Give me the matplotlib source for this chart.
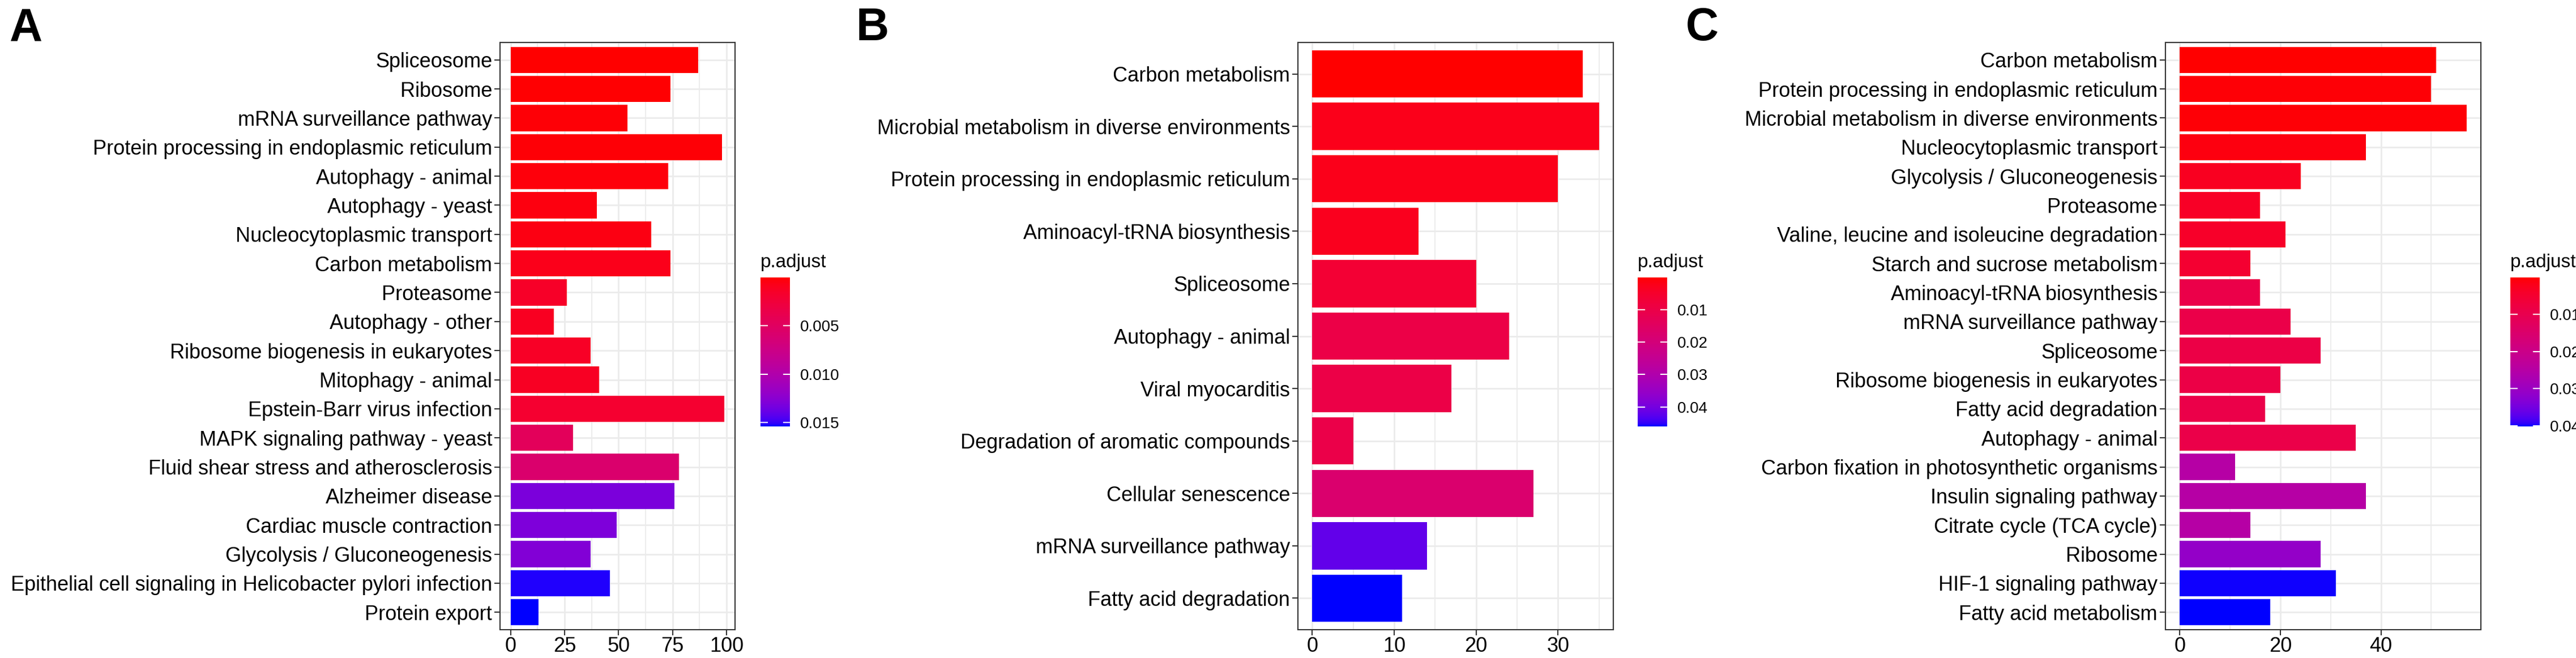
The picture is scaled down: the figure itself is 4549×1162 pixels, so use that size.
import numpy as np
import matplotlib
matplotlib.use("Agg")
import matplotlib.pyplot as plt
from matplotlib.colors import ListedColormap, Normalize
from matplotlib.cm import ScalarMappable
from matplotlib.ticker import MultipleLocator

plt.rcParams['font.family'] = ['Liberation Sans', 'DejaVu Sans']

# ---- panel A ----
a_terms = ["Spliceosome", "Ribosome", "mRNA surveillance pathway",
           "Protein processing in endoplasmic reticulum", "Autophagy - animal",
           "Autophagy - yeast", "Nucleocytoplasmic transport", "Carbon metabolism",
           "Proteasome", "Autophagy - other", "Ribosome biogenesis in eukaryotes",
           "Mitophagy - animal", "Epstein-Barr virus infection",
           "MAPK signaling pathway - yeast", "Fluid shear stress and atherosclerosis",
           "Alzheimer disease", "Cardiac muscle contraction",
           "Glycolysis / Gluconeogenesis",
           "Epithelial cell signaling in Helicobacter pylori infection",
           "Protein export"]
a_count = [87, 74, 54, 98, 73, 40, 65, 74, 26, 20, 37, 41, 99, 29, 78, 76, 49, 37, 46, 13]
a_padj = [0.00002, 0.0001, 0.0002, 0.0002, 0.0003, 0.0004, 0.0005, 0.0008, 0.0015, 0.0011,
          0.0014, 0.0012, 0.0019, 0.0046, 0.0058, 0.0131, 0.0130, 0.0128, 0.0152, 0.0154]
a_ticks = [0.005, 0.010, 0.015]
a_ticklabels = ["0.005", "0.010", "0.015"]

# ---- panel B ----
b_terms = ["Carbon metabolism", "Microbial metabolism in diverse environments",
           "Protein processing in endoplasmic reticulum", "Aminoacyl-tRNA biosynthesis",
           "Spliceosome", "Autophagy - animal", "Viral myocarditis",
           "Degradation of aromatic compounds", "Cellular senescence",
           "mRNA surveillance pathway", "Fatty acid degradation"]
b_count = [33, 35, 30, 13, 20, 24, 17, 5, 27, 14, 11]
b_padj = [0.0001, 0.0024, 0.0025, 0.003, 0.0065, 0.010, 0.010, 0.0102, 0.0175, 0.042, 0.046]
b_ticks = [0.01, 0.02, 0.03, 0.04]
b_ticklabels = ["0.01", "0.02", "0.03", "0.04"]

# ---- panel C ----
c_terms = ["Carbon metabolism", "Protein processing in endoplasmic reticulum",
           "Microbial metabolism in diverse environments", "Nucleocytoplasmic transport",
           "Glycolysis / Gluconeogenesis", "Proteasome",
           "Valine, leucine and isoleucine degradation", "Starch and sucrose metabolism",
           "Aminoacyl-tRNA biosynthesis", "mRNA surveillance pathway", "Spliceosome",
           "Ribosome biogenesis in eukaryotes", "Fatty acid degradation",
           "Autophagy - animal", "Carbon fixation in photosynthetic organisms",
           "Insulin signaling pathway", "Citrate cycle (TCA cycle)", "Ribosome",
           "HIF-1 signaling pathway", "Fatty acid metabolism"]
c_count = [51, 50, 57, 37, 24, 16, 21, 14, 16, 22, 28, 20, 17, 35, 11, 37, 14, 28, 31, 18]
c_padj = [0.00001, 0.0005, 0.0005, 0.001, 0.0028, 0.0035, 0.004, 0.005, 0.009, 0.009,
          0.0085, 0.0085, 0.009, 0.009, 0.025, 0.025, 0.025, 0.031, 0.040, 0.0402]
c_ticks = [0.01, 0.02, 0.03, 0.04]
c_ticklabels = ["0.01", "0.02", "0.03", "0.04"]


# red -> blue gradient in Lab space (like ggplot's continuous fill)
def rgb_to_lab(c):
    c = np.asarray(c, float)
    lin = np.where(c <= 0.04045, c / 12.92, ((c + 0.055) / 1.055) ** 2.4)
    M = np.array([[0.4124, 0.3576, 0.1805], [0.2126, 0.7152, 0.0722], [0.0193, 0.1192, 0.9505]])
    xyz = M @ lin / np.array([0.95047, 1.0, 1.08883])
    f = np.where(xyz > 0.008856, np.cbrt(xyz), 7.787 * xyz + 16 / 116)
    return np.array([116 * f[1] - 16, 500 * (f[0] - f[1]), 200 * (f[1] - f[2])])


def lab_to_rgb(lab):
    L, a, b = lab
    fy = (L + 16) / 116
    f = np.array([fy + a / 500, fy, fy - b / 200])
    xyz = np.where(f ** 3 > 0.008856, f ** 3, (f - 16 / 116) / 7.787) * np.array([0.95047, 1.0, 1.08883])
    Minv = np.array([[3.2406, -1.5372, -0.4986], [-0.9689, 1.8758, 0.0415], [0.0557, -0.2040, 1.0570]])
    lin = np.clip(Minv @ xyz, 0, 1)
    c = np.where(lin <= 0.0031308, 12.92 * lin, 1.055 * lin ** (1 / 2.4) - 0.055)
    return np.clip(c, 0, 1)


lo = rgb_to_lab([1, 0, 0])
hi = rgb_to_lab([0, 0, 1])
cmap = ListedColormap([lab_to_rgb(lo + t * (hi - lo)) for t in np.linspace(0, 1, 300)])

W, H = 4549, 1162
fig = plt.figure(figsize=(W / 100, H / 100), dpi=100)


def panel(left, right, cb_left, terms, counts, padj, major, ticks, ticklabels, letter, letter_x):
    top, bottom = 75, 1112
    ax = fig.add_axes([left / W, 1 - bottom / H, (right - left) / W, (bottom - top) / H])
    n = len(terms)
    y = np.arange(n)
    norm = Normalize(min(padj), max(padj))
    ax.barh(y, counts, height=0.9, color=cmap(norm(padj)), zorder=2)
    ax.set_ylim(n - 0.4, -0.6)
    ax.set_xlim(-0.05 * max(counts), 1.05 * max(counts))
    ax.set_yticks(y)
    ax.set_yticklabels(terms)
    ax.xaxis.set_major_locator(MultipleLocator(major))
    ax.xaxis.set_minor_locator(MultipleLocator(major / 2))
    ax.grid(which='major', color='#EBEBEB', lw=2.0, zorder=0)
    ax.grid(which='minor', axis='x', color='#EBEBEB', lw=1.3, zorder=0)
    ax.set_axisbelow(True)
    for s in ax.spines.values():
        s.set_color('#333333')
        s.set_linewidth(1.5)
    ax.tick_params(which='major', length=7, width=1.5, color='#333333',
                   labelsize=26, labelcolor='black', pad=3)
    ax.tick_params(axis='x', pad=1.5)
    ax.tick_params(which='minor', length=0)

    cax = fig.add_axes([cb_left / W, 1 - 753 / H, 52 / W, 263 / H])
    cb = fig.colorbar(ScalarMappable(norm=norm, cmap=cmap), cax=cax)
    cb.outline.set_visible(False)
    cax.invert_yaxis()
    cb.set_ticks(ticks)
    cb.set_ticklabels(ticklabels)
    cax.tick_params(direction='in', length=9, width=1.5, color='white',
                    left=True, right=True, labelsize=20, labelcolor='black', pad=13)
    cax.minorticks_off()
    fig.text(cb_left / W, 1 - 472 / H, "p.adjust", fontsize=24, ha='left', va='baseline')

    fig.text(letter_x / W, 1 - 71 / H, letter, fontsize=58, fontweight='bold',
             ha='left', va='baseline')


panel(883, 1298, 1343, a_terms, a_count, a_padj, 25, a_ticks, a_ticklabels, "A", 17)
panel(2292, 2849, 2892, b_terms, b_count, b_padj, 10, b_ticks, b_ticklabels, "B", 1512)
panel(3824, 4381, 4433, c_terms, c_count, c_padj, 20, c_ticks, c_ticklabels, "C", 2977)

fig.savefig("out.png", dpi=100)
